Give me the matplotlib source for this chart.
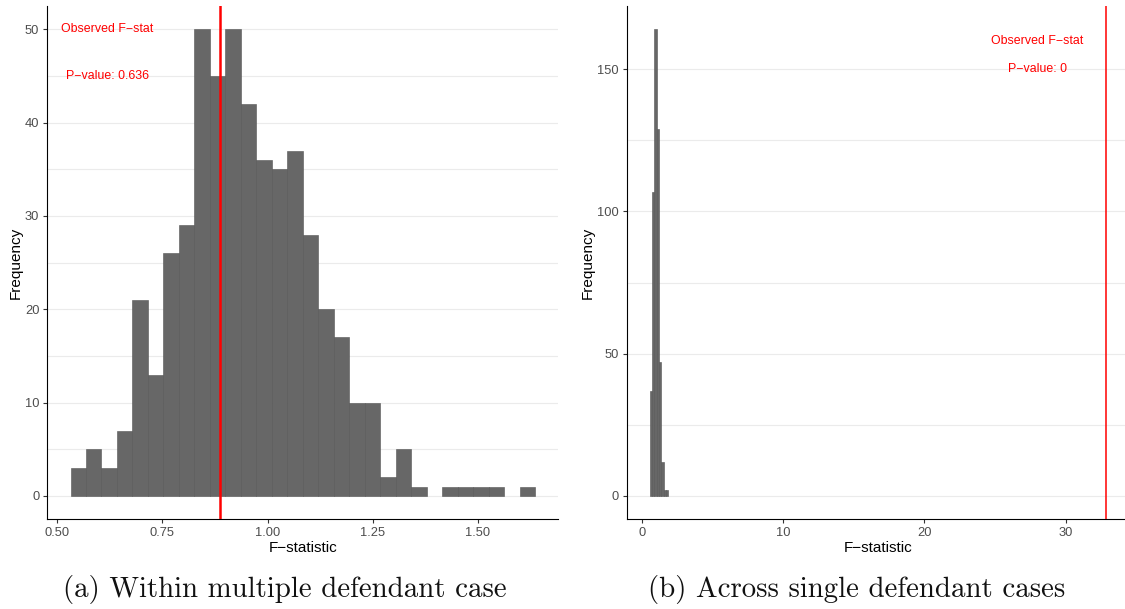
import numpy as np
import matplotlib
matplotlib.use("Agg")
import matplotlib.pyplot as plt
from matplotlib.ticker import FixedLocator

# ---------------- data ----------------
# (a) within multiple defendant case: 30 bins
left_bin_start = 0.5316
left_bin_width = 0.0368
left_counts = [3, 5, 3, 7, 21, 13, 26, 29, 50, 45, 50, 42, 36, 35, 37,
               28, 20, 17, 10, 10, 2, 5, 1, 0, 1, 1, 1, 1, 0, 1]
left_observed = 0.886
left_pvalue = "0.636"

# (b) across single defendant cases
right_bin_start = 0.53
right_bin_width = 0.165
right_counts = [37, 107, 164, 129, 47, 12, 2, 2]
right_observed = 32.85
right_pvalue = "0"

left_xticks = [0.50, 0.75, 1.00, 1.25, 1.50]
left_yticks = [0, 10, 20, 30, 40, 50]
right_xticks = [0, 10, 20, 30]
right_yticks = [0, 50, 100, 150]

captions = ["(a) Within multiple defendant case", "(b) Across single defendant cases"]
xlabel = "F\u2212statistic"
ylabel = "Frequency"

# ---------------- style ----------------
plt.rcParams['font.family'] = ['Liberation Sans', 'DejaVu Sans']
FILL = '#676767'
EDGE = '#555555'
GRID = '#ebebeb'
TICKC = '#4d4d4d'

W, H = 1125, 609
fig = plt.figure(figsize=(W / 100, H / 100), dpi=100)


def px_axes(x0, x1, ytop, ybot):
    return fig.add_axes([x0 / W, 1 - ybot / H, (x1 - x0) / W, (ybot - ytop) / H])


def style(ax, xticks, yticks, xfmt, ymin_grid, ymax_grid, minor_step):
    for s in ['top', 'right']:
        ax.spines[s].set_visible(False)
    for s in ['left', 'bottom']:
        ax.spines[s].set_color('black')
        ax.spines[s].set_linewidth(0.8)
    ax.set_xticks(xticks)
    ax.set_xticklabels([xfmt(v) for v in xticks])
    ax.set_yticks(yticks)
    ax.yaxis.set_minor_locator(FixedLocator(np.arange(ymin_grid + minor_step / 2, ymax_grid, minor_step)))
    ax.tick_params(axis='both', which='major', colors='#333333', labelcolor=TICKC,
                   labelsize=9.3, length=3.2, width=0.8, pad=2.5)
    ax.tick_params(axis='y', which='minor', length=0)
    ax.grid(True, axis='y', which='major', color=GRID, lw=0.8, zorder=0)
    ax.grid(True, axis='y', which='minor', color=GRID, lw=0.8, zorder=0)
    ax.set_axisbelow(True)
    ax.set_xlabel(xlabel, fontsize=11, labelpad=1.5)
    ax.set_ylabel(ylabel, fontsize=11, labelpad=1.5)


def draw_hist(ax, start, width, counts):
    counts = np.asarray(counts, dtype=float)
    edges = start + width * np.arange(len(counts) + 1)
    lefts = edges[:-1]
    mask = counts > 0
    ax.bar(lefts[mask], counts[mask], width=width, align='edge',
           color=FILL, edgecolor=EDGE, linewidth=0.4, zorder=2)
    return edges


# ---- left panel ----
axL = px_axes(47.3, 558.3, 6, 519.3)
edgesL = draw_hist(axL, left_bin_start, left_bin_width, left_counts)
lo, hi = edgesL[0], max(edgesL[-1], left_observed)
pad = 0.05 * (hi - lo)
axL.set_xlim(min(lo, left_observed) - pad, hi + pad)
ymax = max(left_counts)
axL.set_ylim(-0.05 * ymax, 1.05 * ymax)
style(axL, left_xticks, left_yticks, lambda v: f"{v:.2f}", 0, ymax, 10)
axL.axvline(left_observed, color='#ff0000', lw=1.8, zorder=3)
axL.text(0.619, 50, "Observed F\u2212stat", color='#ff0000', fontsize=8.9, ha='center', va='center')
axL.text(0.619, 45, f"P\u2212value: {left_pvalue}", color='#ff0000', fontsize=8.9, ha='center', va='center')

# ---- right panel ----
axR = px_axes(626.7, 1128.8, 6, 519.3)
edgesR = draw_hist(axR, right_bin_start, right_bin_width, right_counts)
lo, hi = edgesR[0], max(edgesR[-1], right_observed)
pad = 0.05 * (hi - lo)
axR.set_xlim(lo - pad, hi + pad)
ymax = max(right_counts)
axR.set_ylim(-0.05 * ymax, 1.05 * ymax)
style(axR, right_xticks, right_yticks, lambda v: f"{v:d}", 0, ymax, 50)
axR.axvline(right_observed, color='#ff0000', lw=1.1, zorder=3)
axR.text(28, 160, "Observed F\u2212stat", color='#ff0000', fontsize=8.9, ha='center', va='center')
axR.text(28, 150, f"P\u2212value: {right_pvalue}", color='#ff0000', fontsize=8.9, ha='center', va='center')

# ---- captions ----
for cx, txt in zip([284.7, 856.5], captions):
    fig.text(cx / W, 1 - 597.5 / H, txt, family=['cmr10', 'DejaVu Serif'], fontsize=20.8,
             ha='center', va='baseline', color='#111111')

fig.savefig("out.png", dpi=100)
